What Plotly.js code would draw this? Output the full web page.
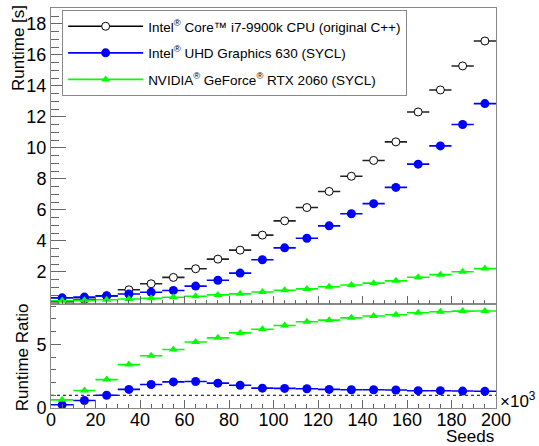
<!DOCTYPE html>
<html>
<head>
<meta charset="utf-8">
<script src="https://cdn.plot.ly/plotly-3.0.1.min.js"></script>
<style>html,body{margin:0;padding:0;background:#fff;}#chart{width:539px;height:446px;}</style>
</head>
<body>
<div id="chart"></div>
<script>
// Bin centres (thousands of seeds) and half bin width
const seedsK = [5, 15, 25, 35, 45, 55, 65, 75, 85, 95, 105, 115, 125, 135, 145, 155, 165, 175, 185, 195];
const binHalfWidth = 5;

// Runtimes [s]
const cpuRuntime  = [0.08, 0.22, 0.45, 0.84, 1.23, 1.64, 2.20, 2.82, 3.40, 4.37, 5.29, 6.15, 7.19, 8.17, 9.19, 10.39, 12.32, 13.74, 15.29, 16.90];
const uhdRuntime  = [0.32, 0.37, 0.45, 0.57, 0.68, 0.80, 1.08, 1.46, 1.92, 2.78, 3.55, 4.17, 4.97, 5.75, 6.40, 7.45, 8.95, 10.13, 11.51, 12.86];
const rtxRuntime  = [0.13, 0.16, 0.20, 0.25, 0.30, 0.36, 0.42, 0.51, 0.58, 0.70, 0.81, 0.90, 1.04, 1.15, 1.27, 1.42, 1.65, 1.82, 2.01, 2.21];

// Runtime ratio (CPU / GPU)
const uhdRatio = [0.25, 0.59, 1.00, 1.46, 1.85, 2.05, 2.08, 1.95, 1.79, 1.56, 1.54, 1.51, 1.46, 1.43, 1.43, 1.41, 1.36, 1.36, 1.33, 1.31];
const rtxRatio = [0.64, 1.38, 2.23, 3.41, 4.10, 4.59, 5.18, 5.51, 5.90, 6.18, 6.48, 6.77, 6.90, 7.08, 7.23, 7.33, 7.48, 7.56, 7.61, 7.62];

// Labels
const seriesNames = [
  'Intel<sup>®</sup> Core™ i7-9900k CPU (original C++)',
  'Intel<sup>®</sup> UHD Graphics 630 (SYCL)',
  'NVIDIA<sup>®</sup> GeForce<sup>®</sup> RTX 2060 (SYCL)'
];
const xTickVals = [0, 20, 40, 60, 80, 100, 120, 140, 160, 180, 200];
const yTopTickVals = [2, 4, 6, 8, 10, 12, 14, 16, 18];
const yBotTickVals = [0, 5];

const FONT = 'Liberation Sans, Arial, Helvetica, sans-serif';
const BLACK = '#000000', BLUE = '#0000ff', GREEN = '#00ff00';

function errX(color) {
  return {type: 'constant', value: binHalfWidth, color: color, thickness: 1.6, width: 0};
}

const traces = [
  // upper panel
  {x: seedsK, y: cpuRuntime, xaxis: 'x2', yaxis: 'y2', type: 'scatter', mode: 'markers',
   marker: {symbol: 'circle', size: 8, color: '#ffffff', line: {color: BLACK, width: 1}},
   error_x: errX('#222222'), showlegend: false, hoverinfo: 'skip'},
  {x: seedsK, y: uhdRuntime, xaxis: 'x2', yaxis: 'y2', type: 'scatter', mode: 'markers',
   marker: {symbol: 'circle', size: 9, color: BLUE}, error_x: errX(BLUE), showlegend: false, hoverinfo: 'skip'},
  {x: seedsK, y: rtxRuntime, xaxis: 'x2', yaxis: 'y2', type: 'scatter', mode: 'markers',
   marker: {symbol: 'triangle-up', size: 8, color: GREEN}, error_x: errX(GREEN), showlegend: false, hoverinfo: 'skip'},
  // lower panel
  {x: seedsK, y: uhdRatio, xaxis: 'x', yaxis: 'y', type: 'scatter', mode: 'markers',
   marker: {symbol: 'circle', size: 9, color: BLUE}, error_x: errX(BLUE), showlegend: false, hoverinfo: 'skip'},
  {x: seedsK, y: rtxRatio, xaxis: 'x', yaxis: 'y', type: 'scatter', mode: 'markers',
   marker: {symbol: 'triangle-up', size: 8, color: GREEN}, error_x: errX(GREEN), showlegend: false, hoverinfo: 'skip'},
  // legend entries
  {x: [null], y: [null], xaxis: 'x2', yaxis: 'y2', type: 'scatter', mode: 'lines+markers', name: seriesNames[0],
   legendgroup: 'a', line: {color: BLACK, width: 1.6},
   marker: {symbol: 'circle', size: 8, color: '#ffffff', line: {color: BLACK, width: 1}}},
  {x: [null], y: [null], xaxis: 'x2', yaxis: 'y2', type: 'scatter', mode: 'lines+markers', name: seriesNames[1],
   legendgroup: 'b', line: {color: BLUE, width: 1.6}, marker: {symbol: 'circle', size: 9, color: BLUE}},
  {x: [null], y: [null], xaxis: 'x2', yaxis: 'y2', type: 'scatter', mode: 'lines+markers', name: seriesNames[2],
   legendgroup: 'c', line: {color: GREEN, width: 1.6}, marker: {symbol: 'triangle-up', size: 8, color: GREEN}}
];

const axisCommon = {
  showline: true, mirror: true, linecolor: '#888888', linewidth: 1,
  showgrid: false, zeroline: false, ticks: 'inside', tickcolor: '#666666',
  tickfont: {family: FONT, size: 18, color: '#000000'}
};

const layout = {
  width: 539, height: 446,
  margin: {l: 51, r: 43, t: 8, b: 38},
  paper_bgcolor: '#ffffff', plot_bgcolor: '#ffffff',
  font: {family: FONT, color: '#000000'},
  showlegend: true,
  legend: {
    x: 0.025, y: 0.995, xanchor: 'left', yanchor: 'top',
    bordercolor: '#888888', borderwidth: 1, bgcolor: '#ffffff',
    font: {family: FONT, size: 13.5, color: '#000000'},
    itemwidth: 75, tracegroupgap: 6
  },
  xaxis: Object.assign({}, axisCommon, {
    anchor: 'y', range: [0, 200], tickmode: 'array', tickvals: xTickVals,
    ticklabelstandoff: -5,
    ticklen: 8, minor: {dtick: 5, tick0: 0, ticklen: 4, ticks: 'inside', tickcolor: '#666666'}
  }),
  xaxis2: Object.assign({}, axisCommon, {
    anchor: 'y2', matches: 'x', range: [0, 200], tickmode: 'array', tickvals: xTickVals,
    showticklabels: false,
    ticklen: 8, minor: {dtick: 5, tick0: 0, ticklen: 4, ticks: 'inside', tickcolor: '#666666'}
  }),
  yaxis: Object.assign({}, axisCommon, {
    anchor: 'x', domain: [0, 0.261], range: [0, 8.2], tickmode: 'array', tickvals: yBotTickVals,
    ticklen: 10, minor: {dtick: 1, tick0: 0, ticklen: 5, ticks: 'inside', tickcolor: '#666666'}
  }),
  yaxis2: Object.assign({}, axisCommon, {
    anchor: 'x2', domain: [0.261, 1], range: [-0.05, 19.03], tickmode: 'array', tickvals: yTopTickVals,
    ticklen: 15, minor: {dtick: 0.5, tick0: 0, ticklen: 8, ticks: 'inside', tickcolor: '#666666'}
  }),
  shapes: [
    {type: 'line', xref: 'x domain', x0: 0, x1: 1, yref: 'y', y0: 1, y1: 1,
     line: {color: '#000000', width: 1, dash: 'dot'}, layer: 'below'}
  ],
  annotations: [
    {text: 'Runtime [s]', textangle: -90, xref: 'paper', yref: 'paper', x: -0.072, y: 0.90,
     xanchor: 'center', yanchor: 'middle', showarrow: false, font: {family: FONT, size: 17}},
    {text: 'Runtime Ratio', textangle: -90, xref: 'paper', yref: 'paper', x: -0.065, y: 0.127,
     xanchor: 'center', yanchor: 'middle', showarrow: false, font: {family: FONT, size: 17}},
    {text: 'Seeds', xref: 'paper', yref: 'paper', x: 1.0, y: -0.071,
     xanchor: 'right', yanchor: 'middle', showarrow: false, font: {family: FONT, size: 17}},
    {text: '×10<sup>3</sup>', xref: 'paper', yref: 'paper', x: 1.005, y: 0.02,
     xanchor: 'left', yanchor: 'middle', showarrow: false, font: {family: FONT, size: 17}}
  ]
};

Plotly.newPlot('chart', traces, layout, {displayModeBar: false, staticPlot: true});
</script>
</body>
</html>
